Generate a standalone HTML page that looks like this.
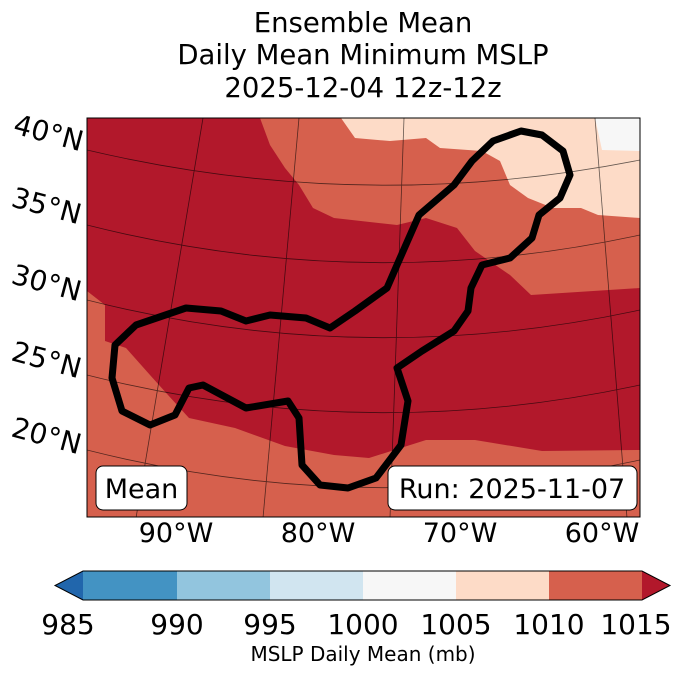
<!DOCTYPE html>
<html><head><meta charset="utf-8"><style>
body{margin:0;background:#fff;width:688px;height:674px;overflow:hidden;font-family:"DejaVu Sans","Liberation Sans",sans-serif}
</style></head><body>
<svg width="688" height="674" viewBox="0 0 688 674" xmlns="http://www.w3.org/2000/svg" font-family="DejaVu Sans, Liberation Sans, sans-serif">
<g font-size="27.5" text-anchor="middle" fill="#000">
<text x="363" y="32">Ensemble Mean</text>
<text x="363" y="64">Daily Mean Minimum MSLP</text>
<text x="363" y="97">2025-12-04 12z-12z</text>
</g>
<defs><clipPath id="mc"><rect x="87" y="118" width="553" height="399"/></clipPath></defs>
<g clip-path="url(#mc)">
<rect x="87" y="118" width="553" height="399" fill="#d6604d"/>
<polygon fill="#b2182b" points="87,118 260,118 270,145 285,168 299,185 313,208 334,218 397,225 426,218 457,228 475,251 510,275 531,295 640,288 640,450 542,451 475,440 426,440 369,458 334,455 285,446 235,428 189,418 168,395 150,375 126,348 105,341 105,305 87,291"/>
<polygon fill="#fddbc7" points="341,118 640,118 640,218 598,215 581,208 553,208 528,198 510,185 500,161 482,151 440,148 426,138 390,141 355,138"/>
<polygon fill="#f7f7f7" points="595,118 640,118 640,151 602,150"/>
<g stroke="#000" stroke-width="0.8" fill="none" opacity="0.6">
<path d="M203,118 L136,518"/><path d="M299,118 L263,518"/><path d="M404,118 L390,518"/><path d="M595,118 L627,518"/>
<path d="M87,150 Q363,215 640,160"/><path d="M87,225 Q363,295 640,235"/><path d="M87,300 Q363,370 640,310"/><path d="M87,375 Q363,445 640,385"/><path d="M87,450 Q363,520 640,460"/>
</g>
<path fill="none" stroke="#000" stroke-width="7" stroke-linejoin="round" d="M521,131 L542,135 563,151 570,175 560,198 539,215 532,238 510,258 482,265 471,288 468,311 454,331 422,351 397,368 408,401 401,445 376,478 348,488 320,485 302,465 299,418 288,401 246,408 203,385 189,388 175,415 150,425 122,411 112,378 115,345 136,325 186,308 221,311 246,321 270,315 306,318 330,328 355,311 387,288 397,265 419,215 454,185 472,161 493,141 Z"/>
<g>
<rect x="96" y="466" width="91" height="44" rx="7" fill="#fff" stroke="#000" stroke-width="1"/>
<text x="141.5" y="498" font-size="27" text-anchor="middle">Mean</text></g>
<g>
<rect x="388" y="466" width="249" height="44" rx="7" fill="#fff" stroke="#000" stroke-width="1"/>
<text x="512" y="498" font-size="27" text-anchor="middle">Run: 2025-11-07</text></g>
</g>
<rect x="87" y="118" width="553" height="399" fill="none" stroke="#000" stroke-width="1"/>
<g font-size="28" fill="#000">
<text transform="translate(12,133) rotate(15)">40°N</text>
<text transform="translate(10,206) rotate(15)">35°N</text>
<text transform="translate(10,283) rotate(15)">30°N</text>
<text transform="translate(10,360) rotate(15)">25°N</text>
<text transform="translate(10,436) rotate(15)">20°N</text>
</g>
<g font-size="27" text-anchor="middle" fill="#000">
<text x="176" y="542">90°W</text><text x="318" y="542">80°W</text><text x="460" y="542">70°W</text><text x="602" y="542">60°W</text>
</g>
<g>
<polygon points="83,571 55,585.5 83,600" fill="#2166ac"/>
<rect x="83" y="571" width="94" height="29" fill="#4393c3"/>
<rect x="177" y="571" width="93" height="29" fill="#92c5de"/>
<rect x="270" y="571" width="93" height="29" fill="#d1e5f0"/>
<rect x="363" y="571" width="93" height="29" fill="#f7f7f7"/>
<rect x="456" y="571" width="93" height="29" fill="#fddbc7"/>
<rect x="549" y="571" width="93" height="29" fill="#d6604d"/>
<polygon points="642,571 670,585.5 642,600" fill="#b2182b"/>
<polygon points="83,571 642,571 670,585.5 642,600 83,600 55,585.5" fill="none" stroke="#000" stroke-width="1"/>
<g font-size="28" text-anchor="middle"><text x="68" y="634">985</text><text x="177" y="634">990</text><text x="270" y="634">995</text><text x="363" y="634">1000</text><text x="456" y="634">1005</text><text x="549" y="634">1010</text><text x="636" y="634">1015</text></g>
<text x="363" y="661" font-size="20" text-anchor="middle">MSLP Daily Mean (mb)</text>
</g>
</svg>
</body></html>
